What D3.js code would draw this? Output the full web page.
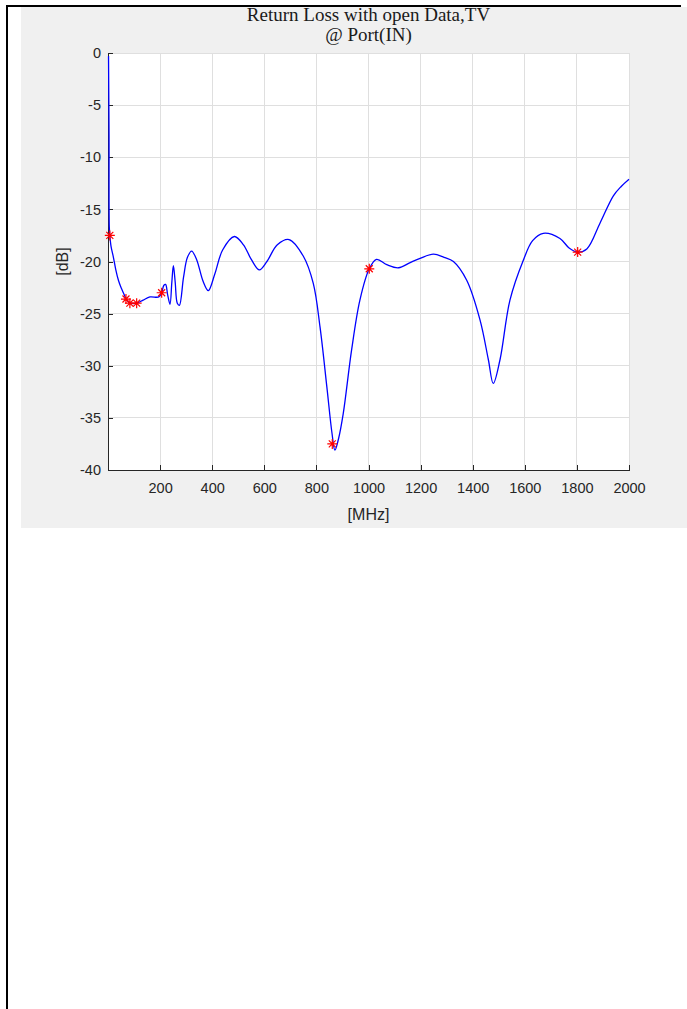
<!DOCTYPE html>
<html><head><meta charset="utf-8">
<script src="https://cdn.jsdelivr.net/npm/d3@7"></script>
<style>
html,body{margin:0;padding:0;background:#fff;}
svg{display:block;}
</style></head>
<body>
<script>
// ---- data ----
const freqMHz = [2,4,5,7,12,20,30,40,50,59,72,87,110,135,161,195,206,214,221,229,238,245,251,258,266,274,290,305,321,340,365,385,410,440,485,520,550,581,610,650,695,750,788,814,840,860,871,885,903,935,967,1003,1031,1070,1115,1160,1198,1249,1290,1326,1377,1428,1460,1479,1505,1543,1594,1630,1671,1735,1770,1803,1838,1889,1940,1970,2000];
const returnLossDB = [-0.3,-8,-16.7,-17.5,-18.6,-19.5,-20.8,-21.8,-22.5,-23.0,-23.7,-24.0,-24.0,-23.7,-23.4,-23.4,-23.0,-22.3,-22.2,-23.2,-24.1,-22.0,-20.4,-22.0,-24.0,-24.2,-21.5,-19.6,-19.0,-19.8,-21.9,-22.8,-21.2,-18.9,-17.6,-18.4,-19.8,-20.8,-20.0,-18.4,-17.9,-19.5,-22.1,-26.3,-32.0,-36.5,-38.1,-37.0,-34.6,-28.5,-23.7,-20.7,-19.8,-20.3,-20.6,-20.1,-19.7,-19.3,-19.6,-20.0,-21.8,-25.6,-29.4,-31.7,-29.4,-23.7,-19.9,-18.0,-17.3,-17.8,-18.7,-19.1,-18.8,-16.3,-13.7,-12.8,-12.1];
const markerMHz = [7,69,84,110,206,861,1003,1803];
const markerDB = [-17.5,-23.6,-24.0,-24.0,-23.0,-37.5,-20.7,-19.1];
const xTicks = [200,400,600,800,1000,1200,1400,1600,1800,2000];
const yTicks = [0,-5,-10,-15,-20,-25,-30,-35,-40];
const titleLines = ["Return Loss with open Data,TV","@ Port(IN)"];
const xLabel = "[MHz]";
const yLabel = "[dB]";

const W = 687, H = 1009;
const svg = d3.select("body").append("svg").attr("width", W).attr("height", H);

// page frame
svg.append("rect").attr("x",21).attr("y",7).attr("width",W-21).attr("height",521).attr("fill","#f0f0f0");
svg.append("rect").attr("x",6).attr("y",5).attr("width",2).attr("height",H-5).attr("fill","#000");
svg.append("rect").attr("x",6).attr("y",5).attr("width",675).attr("height",2).attr("fill","#000");

const L=108, R=629, T=53, B=470;
const x = d3.scaleLinear().domain([0,2000]).range([L,R]);
const y = d3.scaleLinear().domain([-40,0]).range([B,T]);

svg.append("rect").attr("x",L).attr("y",T).attr("width",R-L).attr("height",B-T).attr("fill","#fff");

// grid
const g = svg.append("g");
g.selectAll(".gx").data(xTicks).enter().append("line")
  .attr("x1",d=>x(d)).attr("x2",d=>x(d)).attr("y1",T).attr("y2",B)
  .attr("stroke","#dfdfdf").attr("stroke-width",1).attr("shape-rendering","crispEdges");
g.selectAll(".gy").data(yTicks).enter().append("line")
  .attr("x1",L).attr("x2",R).attr("y1",d=>y(d)).attr("y2",d=>y(d))
  .attr("stroke","#dfdfdf").attr("stroke-width",1).attr("shape-rendering","crispEdges");

// axes
const axisColor = "#262626";
const fmt = d => String(d);
const xAxis = svg.append("g").attr("transform",`translate(0,${B})`)
  .call(d3.axisBottom(x).tickValues(xTicks).tickFormat(fmt).tickSizeInner(-5).tickSizeOuter(0).tickPadding(13));
const yAxis = svg.append("g").attr("transform",`translate(${L},0)`)
  .call(d3.axisLeft(y).tickValues(yTicks).tickFormat(fmt).tickSizeInner(-5).tickSizeOuter(0).tickPadding(7));
[xAxis,yAxis].forEach(a=>{
  a.select(".domain").attr("stroke",axisColor).attr("shape-rendering","crispEdges");
  a.selectAll(".tick line").attr("stroke",axisColor).attr("shape-rendering","crispEdges");
  a.selectAll(".tick text").attr("fill",axisColor).attr("font-family","'Liberation Sans',Arial,sans-serif").attr("font-size","14.5px");
});

// line
const data = freqMHz.map((f,i)=>[f,returnLossDB[i]]);
svg.append("path").datum(data)
  .attr("d", d3.line().x(d=>x(d[0])).y(d=>y(d[1])).curve(d3.curveCatmullRom.alpha(0.5)))
  .attr("fill","none").attr("stroke","#0000ff").attr("stroke-width",1.3);

// markers (asterisk)
const s = 5;
const ast = `M${-s},0L${s},0M0,${-s}L0,${s}M${-s*0.7},${-s*0.7}L${s*0.7},${s*0.7}M${-s*0.7},${s*0.7}L${s*0.7},${-s*0.7}`;
svg.selectAll(".mk").data(markerMHz.map((f,i)=>[f,markerDB[i]])).enter().append("path")
  .attr("transform",d=>`translate(${x(d[0])},${y(d[1])})`)
  .attr("d",ast).attr("stroke","#ff0000").attr("stroke-width",1.2).attr("fill","none");

// titles
const cx = (L+R)/2;
svg.selectAll(".title").data(titleLines).enter().append("text")
  .attr("x",cx).attr("y",(d,i)=>21+i*20).attr("text-anchor","middle")
  .attr("font-family","'Liberation Serif','DejaVu Serif',serif").attr("font-size","19px")
  .attr("fill","#1a1a1a").text(d=>d);

svg.append("text").attr("x",cx).attr("y",520).attr("text-anchor","middle")
  .attr("font-family","'Liberation Sans',Arial,sans-serif").attr("font-size","16px")
  .attr("fill",axisColor).text(xLabel);
svg.append("text").attr("transform",`translate(68,${(T+B)/2}) rotate(-90)`).attr("text-anchor","middle")
  .attr("font-family","'Liberation Sans',Arial,sans-serif").attr("font-size","16px")
  .attr("fill",axisColor).text(yLabel);
</script>
</body></html>
